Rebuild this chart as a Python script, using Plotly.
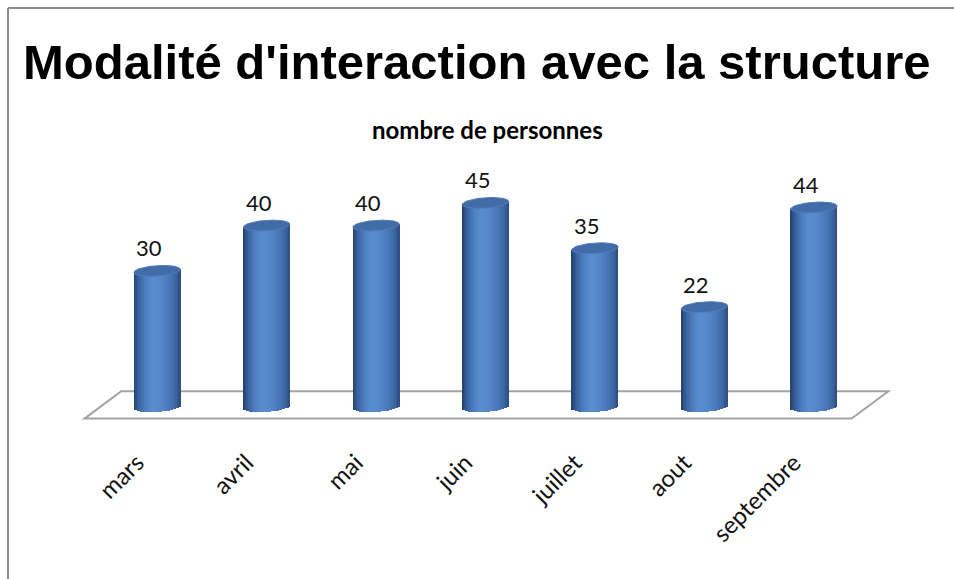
import numpy as np
import plotly.graph_objects as go

# ---- data -----------------------------------------------------------
months = ["mars", "avril", "mai", "juin", "juillet", "aout", "septembre"]
people = [30, 40, 40, 45, 35, 22, 44]

title_text = "Modalité d'interaction avec la structure"
subtitle_text = "nombre de personnes"

# ---- geometry / style -----------------------------------------------
W, H = 954, 579
ML, MR, MT, MB = 75, 58, 135, 136
PLOT_W = W - ML - MR
PLOT_H = H - MT - MB
X_RANGE = [-0.75, 6.75]
Y_RANGE = [-8, 60]

HALF_W = 0.212     # cylinder half width (x units)
CAP_B = 1.15       # half height of the elliptic caps (y units)
TILT = 0.33        # slight perspective tilt of the caps
N_STRIPS = 30      # vertical strips used for the shading

# shading across the cylinder body, from left edge (-1) to right edge (+1)
shade_stops = [
    (-1.00, (36, 64, 108)),
    (-0.80, (56, 96, 156)),
    (-0.50, (76, 125, 192)),
    (-0.20, (90, 140, 210)),
    (0.20, (84, 134, 203)),
    (0.60, (70, 116, 180)),
    (0.85, (58, 99, 158)),
    (1.00, (42, 76, 128)),
]


def shade(u):
    for (u0, c0), (u1, c1) in zip(shade_stops[:-1], shade_stops[1:]):
        if u0 <= u <= u1:
            f = (u - u0) / (u1 - u0)
            r, g, b = (round(a + (bb - a) * f) for a, bb in zip(c0, c1))
            return f"rgb({r},{g},{b})"
    return "rgb(79,129,189)"


x_idx = np.arange(len(months), dtype=float)
vals = np.array(people, dtype=float)

fig = go.Figure()

# ---- floor (3-D base plane), kept beneath the cylinders ---------------
FRONT_Y, BACK_Y = -2.61, 3.43
FRONT_L, DEPTH_SHIFT = -0.663, 0.335
FRONT_R = x_idx[-1] + 0.345
floor_pts = [(FRONT_L, FRONT_Y), (FRONT_R, FRONT_Y),
             (FRONT_R + DEPTH_SHIFT, BACK_Y), (FRONT_L + DEPTH_SHIFT, BACK_Y)]
floor_path = "M " + " L ".join(f"{px},{py}" for px, py in floor_pts) + " Z"
fig.add_shape(type="path", path=floor_path, xref="x", yref="y",
              layer="below", fillcolor="white",
              line=dict(color="#a3a3a3", width=2))

# ---- cylinder bodies, built from thin shaded strips --------------------
strip_w = 2 * HALF_W / N_STRIPS
for k in range(N_STRIPS):
    u = -1 + (k + 0.5) * 2 / N_STRIPS
    base = -CAP_B * np.sqrt(max(0.0, 1 - u * u)) + TILT * u
    top = vals + TILT * u
    fig.add_trace(go.Bar(
        x=x_idx + u * HALF_W, y=top - base, base=[base] * len(months),
        width=strip_w * 1.35, marker=dict(color=shade(u), line=dict(width=0)),
        hoverinfo="skip", showlegend=False,
    ))

# ---- top caps ---------------------------------------------------------
t = np.linspace(0, 2 * np.pi, 72)
cap_x, cap_y = [], []
for xi, v in zip(x_idx, vals):
    cap_x += list(xi + HALF_W * np.cos(t)) + [None]
    cap_y += list(v + TILT * np.cos(t) + CAP_B * np.sin(t)) + [None]
fig.add_trace(go.Scatter(
    x=cap_x, y=cap_y, mode="lines", fill="toself",
    fillcolor="rgb(66,108,168)", line=dict(color="rgb(80,124,186)", width=1),
    hoverinfo="skip", showlegend=False,
))

# ---- value labels -----------------------------------------------------
for xi, v, p in zip(x_idx, vals, people):
    fig.add_annotation(
        x=xi, y=v, text=str(p), showarrow=False,
        xshift=-8, yshift=23,
        font=dict(family="Lato, Open Sans, sans-serif", size=22, color="#111"),
    )

# ---- titles -----------------------------------------------------------
def paper_x(px):
    return (px - ML) / PLOT_W


def paper_y(py):
    return (H - MB - py) / PLOT_H


fig.add_annotation(
    xref="paper", yref="paper", x=paper_x(W / 2), y=paper_y(62),
    text=title_text, showarrow=False, xanchor="center", yanchor="middle",
    font=dict(family="Liberation Sans, Arial, sans-serif", size=49,
              color="#000", weight="bold"),
)
fig.add_annotation(
    xref="paper", yref="paper", x=paper_x(487), y=paper_y(129),
    text=subtitle_text, showarrow=False, xanchor="center", yanchor="middle",
    font=dict(family="Lato, Open Sans, sans-serif", size=24,
              color="#000", weight="bold"),
)

# ---- outer frame (left and top edges) ---------------------------------
frame = dict(color="#8c8c8c", width=2)
fig.add_shape(type="line", xref="paper", yref="paper",
              x0=paper_x(8), x1=paper_x(8), y0=paper_y(8), y1=paper_y(H + 5),
              line=frame)
fig.add_shape(type="line", xref="paper", yref="paper",
              x0=paper_x(8), x1=paper_x(W + 5), y0=paper_y(8), y1=paper_y(8),
              line=frame)

fig.update_layout(
    width=W, height=H,
    margin=dict(l=ML, r=MR, t=MT, b=MB, pad=0),
    paper_bgcolor="white", plot_bgcolor="white",
    barmode="overlay", bargap=0,
    hovermode=False, showlegend=False,
    xaxis=dict(
        range=X_RANGE, tickmode="array", tickvals=list(x_idx), ticktext=months,
        tickangle=-45, showgrid=False, zeroline=False, showline=False,
        ticks="", ticklabelshift=-20, ticklabelstandoff=0,
        tickfont=dict(family="Lato, Open Sans, sans-serif", size=24, color="#111"),
    ),
    yaxis=dict(range=Y_RANGE, visible=False),
)

fig.write_html("out.html")
